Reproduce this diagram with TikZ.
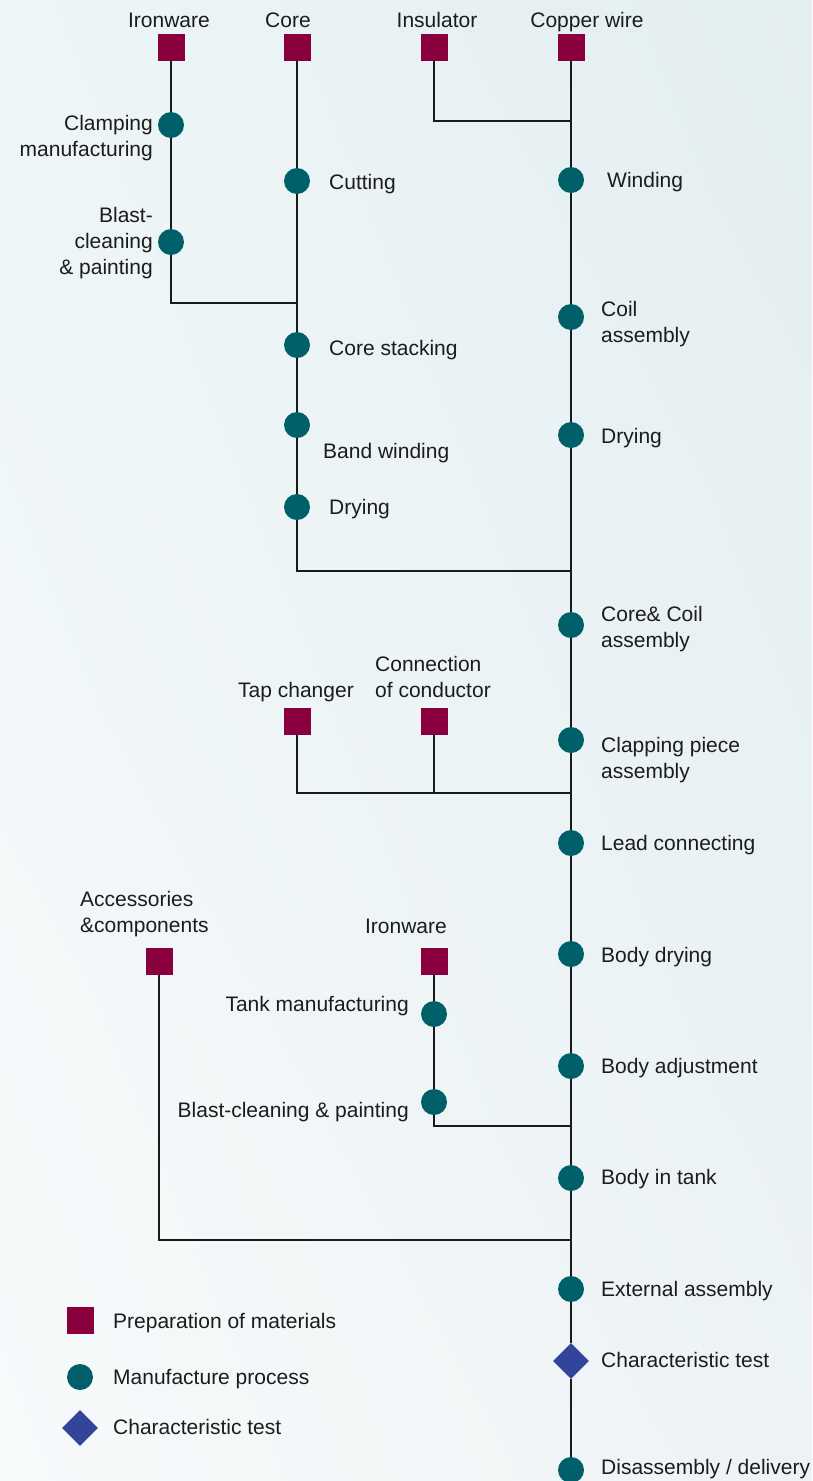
\documentclass[tikz,border=0pt]{standalone}
\usepackage{fontspec}
\setmainfont{Liberation Sans}
\usetikzlibrary{shapes.geometric,shadings}
\definecolor{matc}{HTML}{8A003F}
\definecolor{procc}{HTML}{00606A}
\definecolor{testc}{HTML}{32459A}
\definecolor{linec}{HTML}{1A1A1A}
\definecolor{txtc}{HTML}{1C1C1C}
\definecolor{bgul}{HTML}{EDF5F7}
\definecolor{bgur}{HTML}{E3EEF1}
\definecolor{bgll}{HTML}{F7FAFB}
\definecolor{bglr}{HTML}{EDF3F5}
\begin{document}
\begin{tikzpicture}[x=1pt,y=-1pt,
  mat/.style={rectangle,fill=matc,minimum size=27pt,inner sep=0pt},
  proc/.style={circle,fill=procc,minimum size=26pt,inner sep=0pt},
  testbox/.style={diamond,fill=testc,minimum width=36pt,minimum height=36pt,inner sep=0pt},
  lbl/.style={text=txtc,font=\fontsize{21}{26}\selectfont,inner sep=0pt},
  lbl1/.style={lbl,text height=15.5pt,text depth=0pt},
  lbld/.style={lbl,yshift=-2pt},
  conn/.style={draw=linec,line width=2pt}]
\shade[upper left=bgul,upper right=bgur,lower left=bgll,lower right=bglr] (0,0) rectangle (812,1481);
\useasboundingbox (0,0) rectangle (812,1481);

% materials
\node[mat] (iron1) at (171,47.5) {};
\node[mat] (core) at (297,47.5) {};
\node[mat] (insul) at (434,47.5) {};
\node[mat] (copper) at (571,47.5) {};
\node[mat] (tap) at (297,721) {};
\node[mat] (conc) at (434,721) {};
\node[mat] (acc) at (159,961) {};
\node[mat] (iron2) at (434,961) {};

% processes
\node[proc] (clamp) at (171,125) {};
\node[proc] (blast1) at (171,242) {};
\node[proc] (cut) at (297,181) {};
\node[proc] (stack) at (297,345) {};
\node[proc] (band) at (297,425) {};
\node[proc] (dry1) at (297,507) {};
\node[proc] (wind) at (571,180) {};
\node[proc] (coil) at (571,317) {};
\node[proc] (dry2) at (571,435) {};
\node[proc] (cc) at (571,625) {};
\node[proc] (clap) at (571,740) {};
\node[proc] (lead) at (571,843) {};
\node[proc] (bdry) at (571,954) {};
\node[proc] (badj) at (571,1066) {};
\node[proc] (tank) at (434,1014) {};
\node[proc] (blast2) at (434,1102) {};
\node[proc] (bint) at (571,1178) {};
\node[proc] (ext) at (571,1289) {};
\node[testbox] (test) at (571,1361) {};
\node[proc] (dis) at (571,1470) {};

% junctions
\coordinate (j1) at (297,303);
\coordinate (j2) at (571,571);
\coordinate (j3) at (571,121);
\coordinate (j4) at (571,793);
\coordinate (j5) at (571,1126);
\coordinate (j6) at (571,1240);
\coordinate (j7) at (434,793);

% connectors
\draw[conn] (iron1) -- (clamp);
\draw[conn] (clamp) -- (blast1);
\draw[conn] (blast1) |- (j1);
\draw[conn] (core) -- (cut);
\draw[conn] (cut) -- (stack);
\draw[conn] (stack) -- (band);
\draw[conn] (band) -- (dry1);
\draw[conn] (dry1) |- (j2);
\draw[conn] (insul) |- (j3);
\draw[conn] (copper) -- (wind);
\draw[conn] (wind) -- (coil);
\draw[conn] (coil) -- (dry2);
\draw[conn] (dry2) -- (cc);
\draw[conn] (cc) -- (clap);
\draw[conn] (clap) -- (lead);
\draw[conn] (tap) |- (j4);
\draw[conn] (conc) -- (j7);
\draw[conn] (lead) -- (bdry);
\draw[conn] (bdry) -- (badj);
\draw[conn] (badj) -- (bint);
\draw[conn] (iron2) -- (tank);
\draw[conn] (tank) -- (blast2);
\draw[conn] (blast2) |- (j5);
\draw[conn] (bint) -- (ext);
\draw[conn] (acc) |- (j6);
\draw[conn] (ext) -- (test);
\draw[conn] (test) -- (dis);

% labels
\node[lbl1] (l-iron1) at (169,20) {Ironware};
\node[lbl1] (l-core) at (288,20) {Core};
\node[lbl1] (l-insul) at (437,20) {Insulator};
\node[lbl1] (l-copper) at (587,20) {Copper wire};
\node[lbld,anchor=east,align=right] (l-clamp) at (153,136) {Clamping\\manufacturing};
\node[lbld,anchor=east,align=right] (l-blast1) at (153,241) {Blast-\\cleaning\\\& painting};
\node[lbl1,anchor=west] (l-cut) at (329,182) {Cutting};
\node[lbl1,anchor=west] (l-wind) at (607,180) {Winding};
\node[lbld,anchor=west,align=left] (l-coil) at (601,322) {Coil\\assembly};
\node[lbl1,anchor=west] (l-stack) at (329,348) {Core stacking};
\node[lbl1,anchor=west] (l-band) at (323,451) {Band winding};
\node[lbl1,anchor=west] (l-dry1) at (329,507) {Drying};
\node[lbl1,anchor=west] (l-dry2) at (601,436) {Drying};
\node[lbld,anchor=west,align=left] (l-cc) at (601,627) {Core\& Coil\\assembly};
\node[lbl1] (l-tap) at (296,690) {Tap changer};
\node[lbl,anchor=west,align=left] (l-conc) at (375,677) {Connection\\of conductor};
\node[lbld,anchor=west,align=left] (l-clap) at (601,758) {Clapping piece\\assembly};
\node[lbl1,anchor=west] (l-lead) at (601,843) {Lead connecting};
\node[lbld,anchor=west,align=left] (l-acc) at (80,912) {Accessories\\\&components};
\node[lbl1,anchor=east] (l-iron2) at (447,926) {Ironware};
\node[lbl1,anchor=west] (l-bdry) at (601,955) {Body drying};
\node[lbl1,anchor=east] (l-tank) at (409,1004) {Tank manufacturing};
\node[lbl1,anchor=west] (l-badj) at (601,1066) {Body adjustment};
\node[lbl1,anchor=east] (l-blast2) at (409,1110) {Blast-cleaning \& painting};
\node[lbl1,anchor=west] (l-bint) at (601,1177) {Body in tank};
\node[lbl1,anchor=west] (l-ext) at (601,1289) {External assembly};
\node[lbl1,anchor=west] (l-test) at (601,1360) {Characteristic test};
\node[lbl1,anchor=west] (l-dis) at (601,1467) {Disassembly / delivery};

% legend
\node[mat] (lg-mat) at (80,1320) {};
\node[proc] (lg-proc) at (80,1377) {};
\node[testbox] (lg-test) at (80,1428) {};
\node[lbl1,anchor=west] (lg-mat-t) at (113,1321) {Preparation of materials};
\node[lbl1,anchor=west] (lg-proc-t) at (113,1377) {Manufacture process};
\node[lbl1,anchor=west] (lg-test-t) at (113,1427) {Characteristic test};
\end{tikzpicture}
\end{document}
